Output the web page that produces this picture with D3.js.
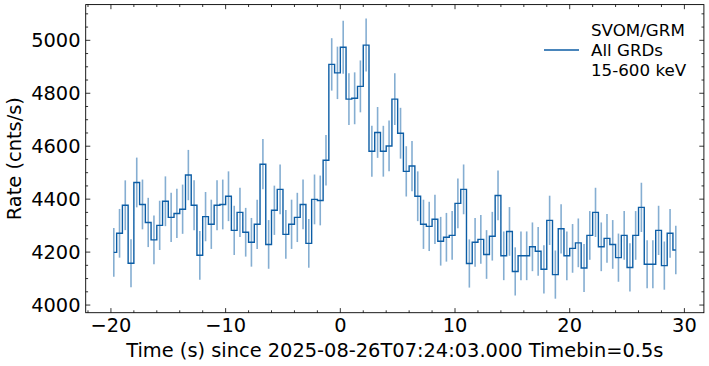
<!DOCTYPE html>
<html>
<head>
<meta charset="utf-8">
<script src="https://cdn.jsdelivr.net/npm/d3@7"></script>
<style>
  html, body { margin: 0; padding: 0; background: #fff; }
  svg { display: block; font-family: "DejaVu Sans", sans-serif; }
</style>
</head>
<body>
<svg id="chart" width="709" height="366"></svg>
<script>
// ---- data ----
const binWidth = 0.5;          // s
const firstBinCenter = -19.75; // s
const rates = [
  4199, 4271, 4377, 4158, 4463, 4380, 4312, 4246, 4301, 4392,
  4331, 4346, 4362, 4491, 4377, 4188, 4334, 4305, 4377, 4380,
  4411, 4282, 4350, 4275, 4237, 4305, 4532, 4229, 4358, 4437,
  4267, 4305, 4331, 4380, 4233, 4399, 4395, 4547, 4909, 4877,
  4974, 4778, 4781, 4826, 4982, 4581, 4652, 4581, 4601, 4778,
  4649, 4505, 4525, 4411, 4305, 4297, 4324, 4241, 4256, 4263,
  4384, 4437, 4157, 4237, 4248, 4191, 4260, 4414, 4186, 4278,
  4127, 4186, 4186, 4220, 4203, 4135, 4320, 4115, 4288, 4186,
  4214, 4235, 4140, 4263, 4350, 4220, 4252, 4229, 4179, 4263,
  4142, 4263, 4369, 4154, 4154, 4282, 4149, 4271, 4208
];
const errors = [
  92, 92, 94, 91, 94, 94, 93, 92, 93, 94,
  93, 93, 93, 95, 94, 92, 93, 93, 94, 94,
  94, 93, 93, 92, 92, 93, 95, 92, 93, 94,
  92, 93, 93, 94, 92, 94, 94, 95, 99, 99,
  100, 98, 98, 98, 100, 96, 96, 96, 96, 98,
  96, 95, 95, 94, 93, 93, 93, 92, 92, 92,
  94, 94, 91, 92, 92, 92, 92, 94, 92, 92,
  91, 92, 92, 92, 92, 91, 93, 91, 93, 92,
  92, 92, 91, 92, 93, 92, 92, 92, 91, 92,
  91, 92, 93, 91, 91, 93, 91, 92, 92
];
const times = rates.map((_, i) => firstBinCenter + i * binWidth);
const xTicks = [-20, -10, 0, 10, 20, 30];
const yTicks = [4000, 4200, 4400, 4600, 4800, 5000];
const xLabel = "Time (s) since 2025-08-26T07:24:03.000 Timebin=0.5s";
const yLabel = "Rate (cnts/s)";
const legendLines = ["SVOM/GRM", "All GRDs", "15-600 keV"];

// ---- layout ----
const color = "#0C5DA5";
const fontSize = 19.4;
const plot = { left: 85.7, right: 703.9, top: 4.6, bottom: 312.7 };

const svg = d3.select("#chart");

const tMin = d3.min(times), tMax = d3.max(times);
const xPad = 0.05 * (tMax - tMin);
const lo = d3.min(rates, (d, i) => d - errors[i]);
const hi = d3.max(rates, (d, i) => d + errors[i]);
const yPad = 0.05 * (hi - lo);

const x = d3.scaleLinear().domain([tMin - xPad, tMax + xPad]).range([plot.left, plot.right]);
const y = d3.scaleLinear().domain([lo - yPad, hi + yPad]).range([plot.bottom, plot.top]);

const data = rates.map((r, i) => ({ t: times[i], r, e: errors[i] }));

// error bars
svg.append("g")
  .selectAll("line")
  .data(data)
  .join("line")
  .attr("x1", d => x(d.t)).attr("x2", d => x(d.t))
  .attr("y1", d => y(d.r - d.e)).attr("y2", d => y(d.r + d.e))
  .attr("stroke", color)
  .attr("stroke-opacity", 0.5)
  .attr("stroke-width", 1.6);

// step line (mid)
const line = d3.line().x(d => x(d.t)).y(d => y(d.r)).curve(d3.curveStep);
svg.append("path")
  .datum(data)
  .attr("d", line)
  .attr("fill", "none")
  .attr("stroke", color)
  .attr("stroke-width", 1.4)
  .attr("stroke-linejoin", "miter");

// ---- axes (ticks inward on all four sides) ----
const majorLen = 4.6, minorLen = 2.4;
const xMinor = d3.range(-22, 32, 2).filter(v => v % 10 !== 0 && x(v) >= plot.left && x(v) <= plot.right);
const yMinor = d3.range(3950, 5150, 50).filter(v => v % 200 !== 0 && y(v) >= plot.top && y(v) <= plot.bottom);

const tickG = svg.append("g").attr("stroke", "#000").attr("stroke-width", 0.8);
function xTick(v, len) {
  tickG.append("line").attr("x1", x(v)).attr("x2", x(v)).attr("y1", plot.bottom).attr("y2", plot.bottom - len);
  tickG.append("line").attr("x1", x(v)).attr("x2", x(v)).attr("y1", plot.top).attr("y2", plot.top + len);
}
function yTick(v, len) {
  tickG.append("line").attr("y1", y(v)).attr("y2", y(v)).attr("x1", plot.left).attr("x2", plot.left + len);
  tickG.append("line").attr("y1", y(v)).attr("y2", y(v)).attr("x1", plot.right).attr("x2", plot.right - len);
}
xTicks.forEach(v => xTick(v, majorLen));
xMinor.forEach(v => xTick(v, minorLen));
yTicks.forEach(v => yTick(v, majorLen));
yMinor.forEach(v => yTick(v, minorLen));

// frame
svg.append("rect")
  .attr("x", plot.left).attr("y", plot.top)
  .attr("width", plot.right - plot.left).attr("height", plot.bottom - plot.top)
  .attr("fill", "none").attr("stroke", "#000").attr("stroke-width", 0.9);

// tick labels
const fmt = d3.format("d");
svg.append("g").selectAll("text").data(xTicks).join("text")
  .attr("x", d => x(d)).attr("y", plot.bottom + 19.6)
  .attr("text-anchor", "middle").attr("font-size", fontSize).attr("fill", "#000")
  .text(d => fmt(d));
svg.append("g").selectAll("text").data(yTicks).join("text")
  .attr("x", plot.left - 5.2).attr("y", d => y(d) + 7)
  .attr("text-anchor", "end").attr("font-size", fontSize).attr("fill", "#000")
  .text(d => fmt(d));

// axis labels
svg.append("text")
  .attr("x", (plot.left + plot.right) / 2).attr("y", 357)
  .attr("text-anchor", "middle").attr("font-size", fontSize).attr("fill", "#000")
  .text(xLabel);
svg.append("text")
  .attr("transform", `translate(20.5,${(plot.top + plot.bottom) / 2}) rotate(-90)`)
  .attr("text-anchor", "middle").attr("font-size", fontSize).attr("fill", "#000")
  .text(yLabel);

// legend
const legFont = 16.7;
const leg = svg.append("g");
leg.append("line")
  .attr("x1", 544).attr("x2", 579).attr("y1", 50).attr("y2", 50)
  .attr("stroke", color).attr("stroke-width", 1.4);
leg.selectAll("text").data(legendLines).join("text")
  .attr("x", 591).attr("y", (d, i) => 35.7 + i * 20.2)
  .attr("font-size", legFont).attr("fill", "#000")
  .text(d => d);
</script>
</body>
</html>
